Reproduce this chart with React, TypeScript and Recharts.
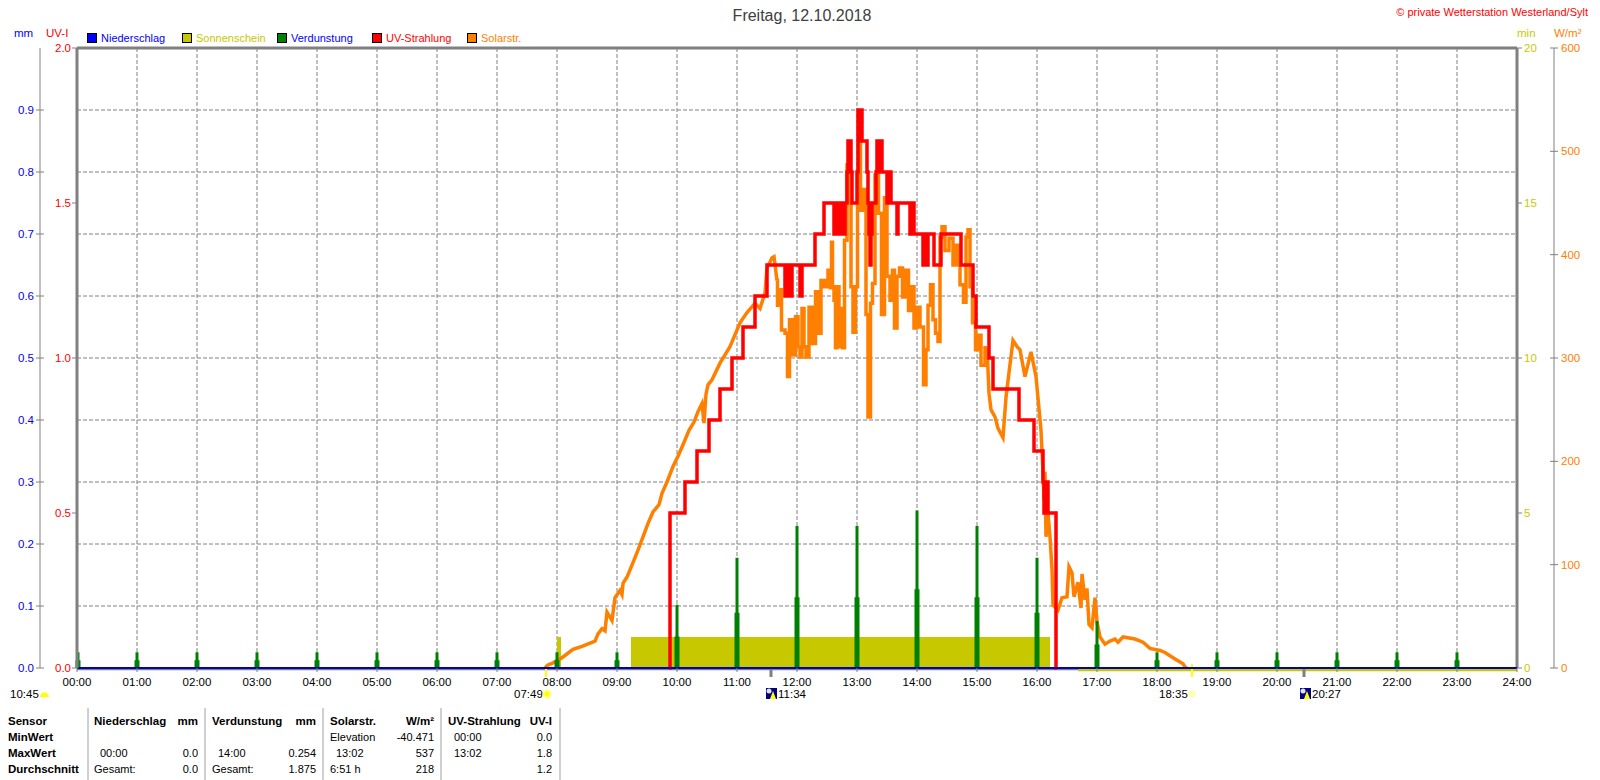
import React from 'react';
import { ComposedChart, Line, Area, XAxis, YAxis, CartesianGrid, ReferenceLine } from 'recharts';

const FONT = '"Liberation Sans", Arial, sans-serif';

const hourTicks = [0, 60, 120, 180, 240, 300, 360, 420, 480, 540, 600, 660, 720, 780, 840, 900, 960, 1020, 1080, 1140, 1200, 1260, 1320, 1380, 1440];
const mmTicks = [0, 0.1, 0.2, 0.3, 0.4, 0.5, 0.6, 0.7, 0.8, 0.9];
const uvTicks = [0, 0.5, 1, 1.5, 2];
const minTicks = [0, 5, 10, 15, 20];
const solarTicks = [0, 100, 200, 300, 400, 500, 600];

// minutes since midnight / W per m2
const solarRiseTimes = [468, 471, 476, 485, 496, 505, 518, 521, 525, 528, 530, 535, 538, 543, 545, 546, 550, 556, 561, 566, 571, 576, 582, 585, 590, 596, 601, 606, 612, 617, 621, 625, 627, 629, 631, 635, 643, 653, 663, 670, 678, 683, 688, 690, 695, 697, 700];
const solarRiseValues = [0, 3, 5, 10, 18, 21, 26, 33, 38, 36, 54, 46, 68, 75, 71, 82, 88, 102, 114, 127, 140, 151, 158, 169, 180, 195, 205, 216, 230, 238, 248, 256, 237, 265, 274, 279, 295, 311, 334, 344, 353, 348, 363, 387, 397, 398, 375];
const solarNoiseTimes = [700, 701, 703, 706, 710, 711, 714, 717, 720, 722, 724, 726, 728, 730, 734, 737, 740, 742, 746, 749, 753, 754, 755, 756, 758, 759, 761, 763, 765, 766, 769, 771, 773, 775, 777, 780, 781, 782, 785, 788, 790, 792, 795, 796, 800, 803, 806, 809, 811, 815, 816, 819, 821, 824, 827, 830, 833, 836, 838, 841, 845, 848, 850, 852, 855, 857, 860, 862, 864, 866, 870, 874, 878, 881, 885, 888, 890, 892, 894, 897, 900, 902, 906, 910];
const solarNoiseValues = [375, 351, 366, 327, 324, 282, 337, 303, 340, 311, 301, 348, 311, 301, 349, 314, 364, 324, 375, 369, 385, 368, 412, 369, 356, 310, 369, 311, 348, 310, 414, 487, 450, 369, 325, 369, 450, 537, 443, 463, 342, 243, 353, 372, 477, 440, 342, 455, 379, 356, 385, 329, 379, 387, 359, 385, 346, 369, 329, 349, 330, 274, 308, 351, 371, 337, 324, 316, 417, 427, 404, 416, 390, 409, 371, 354, 417, 424, 369, 334, 308, 322, 293, 310];
const solarTailTimes = [910, 912, 914, 918, 921, 926, 929, 932, 936, 940, 943, 948, 952, 954, 959, 964, 966, 967, 968, 969, 971, 973, 975, 976, 981, 985, 990, 992, 995, 997, 1001, 1004, 1005, 1008, 1010, 1012, 1015, 1018, 1020, 1023, 1028, 1033, 1038, 1041, 1046, 1058, 1066, 1073, 1083, 1088, 1096, 1106, 1108, 1110];
const solarTailValues = [310, 266, 250, 243, 232, 223, 262, 286, 317, 311, 308, 282, 298, 306, 282, 230, 190, 163, 190, 127, 150, 127, 95, 61, 56, 68, 69, 98, 92, 69, 83, 58, 91, 66, 77, 42, 39, 68, 45, 30, 23, 26, 28, 25, 30, 28, 25, 19, 17, 15, 10, 4, 1, 0];

const uvTimes = [592, 593, 608, 620, 632, 643, 655, 666, 678, 690, 708, 709, 710, 711, 712, 713, 714, 715, 723, 725, 738, 747, 757, 758, 759, 760, 761, 762, 763, 764, 765, 766, 767, 768, 769, 770, 771, 772, 773, 774, 775, 780, 781, 783, 784, 785, 790, 791, 792, 793, 794, 795, 799, 800, 801, 802, 803, 804, 805, 810, 811, 812, 813, 814, 820, 821, 833, 834, 835, 836, 837, 846, 847, 848, 849, 850, 851, 857, 864, 884, 896, 899, 912, 916, 942, 957, 966, 967, 968, 969, 970, 971, 979, 980];
const uvValues = [0, 0.5, 0.6, 0.7, 0.8, 0.9, 1.0, 1.1, 1.2, 1.3, 1.2, 1.3, 1.2, 1.3, 1.2, 1.3, 1.2, 1.3, 1.2, 1.3, 1.4, 1.5, 1.4, 1.5, 1.4, 1.5, 1.4, 1.5, 1.4, 1.5, 1.4, 1.5, 1.4, 1.5, 1.5, 1.6, 1.7, 1.6, 1.7, 1.6, 1.5, 1.6, 1.8, 1.7, 1.8, 1.7, 1.6, 1.5, 1.4, 1.3, 1.4, 1.5, 1.6, 1.7, 1.6, 1.7, 1.6, 1.7, 1.6, 1.5, 1.6, 1.5, 1.6, 1.5, 1.4, 1.5, 1.4, 1.5, 1.4, 1.5, 1.4, 1.3, 1.4, 1.3, 1.4, 1.3, 1.4, 1.3, 1.4, 1.3, 1.2, 1.1, 1.0, 0.9, 0.8, 0.7, 0.6, 0.5, 0.6, 0.5, 0.6, 0.5, 0, 0];

const evapHours = [1, 60, 120, 180, 240, 300, 360, 420, 480, 540, 600, 660, 720, 780, 840, 900, 960, 1020, 1080, 1140, 1200, 1260, 1320, 1380];
const evapValues = [0.0254, 0.0254, 0.0254, 0.0254, 0.0254, 0.0254, 0.0254, 0.0254, 0.0254, 0.0254, 0.102, 0.178, 0.229, 0.229, 0.254, 0.229, 0.178, 0.076, 0.0254, 0.0254, 0.0254, 0.0254, 0.0254, 0.0254];
const evapBase = [0.0127, 0.0127, 0.0127, 0.0127, 0.0127, 0.0127, 0.0127, 0.0127, 0.0127, 0.0127, 0.051, 0.089, 0.114, 0.114, 0.127, 0.114, 0.089, 0.038, 0.0127, 0.0127, 0.0127, 0.0127, 0.0127, 0.0127];

const sunTimes = [480, 484, 554, 973];
const sunValues = [1, 0, 1, 0];
const sunFloorStart = 1001;
const sunFloorEnd = 1440;
const sunFloorValue = -0.06;

const rainTimes = [0, 1440];
const rainValues = [0, 0];

const sunEvents = [469, 1115];
const sunEventTop = 0.0065;
const moonEvents = [694, 1227];
const moonEventTop = -0.002;
const eventFoot = -0.0145;
const baseLine = -0.002;

const zip = (ts: number[], vs: number[]) => ts.map((t, i) => ({ t, v: vs[i] }));

const spikes = (ts: number[], tops: number[], foot: number) =>
    ts.flatMap((t, i) => [
        { t, v: foot },
        { t, v: tops[i] },
        { t, v: null },
    ]);

const fmtHour = (m: number) => `${String(m / 60).padStart(2, '0')}:00`;

const sideTick = (color: string, fmt: (v: number) => string, x1: number, x2: number, tx: number, anchor: string) => (p: any) => (
    <g>
        <line x1={p.x + x1} x2={p.x + x2} y1={p.y} y2={p.y} stroke="#808080" />
        <text x={p.x + tx} y={p.y + 4} textAnchor={anchor} fill={color} fontSize={11.5} fontFamily={FONT}>
            {fmt(p.payload.value)}
        </text>
    </g>
);

const legendItems = [
    { name: 'Niederschlag', box: '#0000ff', text: '#0000ff' },
    { name: 'Sonnenschein', box: '#c8c800', text: '#c8c800' },
    { name: 'Verdunstung', box: '#008000', text: '#0000ff' },
    { name: 'UV-Strahlung', box: '#ff0000', text: '#ff0000' },
    { name: 'Solarstr.', box: '#ff8000', text: '#ff8000' },
];

// label, x, anchor, row, bold
const tableCells: [string, number, string, number, boolean][] = [
    ['Sensor', 8, 'start', 0, true],
    ['MinWert', 8, 'start', 1, true],
    ['MaxWert', 8, 'start', 2, true],
    ['Durchschnitt', 8, 'start', 3, true],
    ['Niederschlag', 94, 'start', 0, true],
    ['mm', 198, 'end', 0, true],
    ['Verdunstung', 212, 'start', 0, true],
    ['mm', 316, 'end', 0, true],
    ['Solarstr.', 330, 'start', 0, true],
    ['W/m²', 434, 'end', 0, true],
    ['UV-Strahlung', 448, 'start', 0, true],
    ['UV-I', 552, 'end', 0, true],
    ['Elevation', 330, 'start', 1, false],
    ['-40.471', 434, 'end', 1, false],
    ['00:00', 454, 'start', 1, false],
    ['0.0', 552, 'end', 1, false],
    ['00:00', 100, 'start', 2, false],
    ['0.0', 198, 'end', 2, false],
    ['14:00', 218, 'start', 2, false],
    ['0.254', 316, 'end', 2, false],
    ['13:02', 336, 'start', 2, false],
    ['537', 434, 'end', 2, false],
    ['13:02', 454, 'start', 2, false],
    ['1.8', 552, 'end', 2, false],
    ['Gesamt:', 94, 'start', 3, false],
    ['0.0', 198, 'end', 3, false],
    ['Gesamt:', 212, 'start', 3, false],
    ['1.875', 316, 'end', 3, false],
    ['6:51 h', 330, 'start', 3, false],
    ['218', 434, 'end', 3, false],
    ['1.2', 552, 'end', 3, false],
];

const MoonIcon = ({ x }: { x: number }) => (
    <g>
        <rect x={x} y={688} width={11} height={11} fill="#000080" />
        <circle cx={x + 3} cy={691} r={2.5} fill="#e0e0ff" />
        <path d={`M${x + 7} 691 l3 8 h-6 z`} fill="#ffff00" />
    </g>
);

const Overlay = () => (
    <svg width={1600} height={780} style={{ position: 'absolute', left: 0, top: 0, pointerEvents: 'none' }} fontFamily={FONT} fontSize={11.5}>
        <text x={802} y={21} textAnchor="middle" fontSize={16} fill="#404040">Freitag, 12.10.2018</text>
        <text x={1588} y={16} textAnchor="end" fill="#ff0000" fontSize={11}>© private Wetterstation Westerland/Sylt</text>
        <text x={14} y={37} fill="#0000ff">mm</text>
        <text x={46} y={37} fill="#ff0000">UV-I</text>
        <text x={1517} y={37} fill="#c8c800">min</text>
        <text x={1554} y={37} fill="#ff8000">W/m²</text>
        {legendItems.map((it, i) => (
            <g key={it.name}>
                <rect x={87.5 + i * 95} y={33.5} width={9} height={9} fill={it.box} stroke="#000" />
                <text x={101 + i * 95} y={42} fill={it.text} fontSize={11}>{it.name}</text>
            </g>
        ))}

        <text x={10} y={698} fill="#000">10:45</text>
        <path d="M40 697 a4.5 4.5 0 0 1 9 0 z" fill="#ffff00" />
        <text x={514} y={698} fill="#000">07:49</text>
        <circle cx={547} cy={694} r={3.5} fill="#ffff00" stroke="#ffff80" strokeWidth={2} />
        <MoonIcon x={766} />
        <text x={778} y={698} fill="#000">11:34</text>
        <text x={1159} y={698} fill="#000">18:35</text>
        <circle cx={1192} cy={694} r={3} fill="#ffffc0" stroke="#ffff80" />
        <MoonIcon x={1300} />
        <text x={1312} y={698} fill="#000">20:27</text>

        {[88, 205, 323, 441, 560].map((x) => (
            <line key={x} x1={x} x2={x} y1={708} y2={780} stroke="#a0a0a0" />
        ))}
        {tableCells.map(([s, x, anchor, row, bold], i) => (
            <text key={i} x={x} y={725 + row * 16} textAnchor={anchor} fontWeight={bold ? 'bold' : 'normal'} fontSize={bold ? 11.5 : 11} fill="#000">{s}</text>
        ))}
    </svg>
);

export default function App() {
    return (
        <div style={{ position: 'absolute', left: 0, top: 0, width: 1600, height: 780, background: '#fff' }}>
            <ComposedChart width={1600} height={780} margin={{ top: 48, right: 0, bottom: 82, left: 0 }}>
                <CartesianGrid yAxisId="mm" stroke="#808080" strokeDasharray="4 2" />
                <XAxis
                    dataKey="t"
                    type="number"
                    domain={[0, 1440]}
                    ticks={hourTicks}
                    interval={0}
                    height={30}
                    axisLine={false}
                    tickLine={{ stroke: '#808080' }}
                    tickSize={4}
                    tickFormatter={fmtHour}
                    tick={{ fill: '#000', fontSize: 11.5, fontFamily: FONT }}
                    tickMargin={6}
                />
                <YAxis yAxisId="auv" orientation="left" width={37} domain={[0, 2]} ticks={uvTicks} interval={0} tickSize={0} tickMargin={0} tickLine={false} axisLine={{ stroke: '#808080', strokeWidth: 3 }} tick={sideTick('#ff0000', (v) => v.toFixed(1), -5, 0, -6, 'end')} />
                <YAxis yAxisId="mm" orientation="left" width={40} domain={[0, 1]} ticks={mmTicks} interval={0} tickSize={0} tickMargin={0} tickLine={false} axisLine={{ stroke: '#808080' }} tick={sideTick('#0000ff', (v) => v.toFixed(1), -4, 4, -6, 'end')} />
                <YAxis yAxisId="min" orientation="right" width={37} domain={[0, 20]} ticks={minTicks} interval={0} tickSize={0} tickMargin={0} tickLine={false} axisLine={false} tick={sideTick('#c8c800', (v) => String(v), 0, 5, 7, 'start')} />
                <YAxis yAxisId="solar" orientation="right" width={46} domain={[0, 600]} ticks={solarTicks} interval={0} tickSize={0} tickMargin={0} tickLine={false} axisLine={{ stroke: '#808080' }} tick={sideTick('#ff8000', (v) => String(v), -4, 4, 7, 'start')} />

                <ReferenceLine yAxisId="mm" y={1} stroke="#808080" strokeWidth={3} />
                <ReferenceLine yAxisId="mm" x={1440} stroke="#808080" strokeWidth={3} />
                <ReferenceLine yAxisId="mm" ifOverflow="visible" segment={[{ x: 0, y: baseLine }, { x: 1440, y: baseLine }]} stroke="#808080" strokeWidth={2} />
                <ReferenceLine yAxisId="min" ifOverflow="visible" segment={[{ x: sunFloorStart, y: sunFloorValue }, { x: sunFloorEnd, y: sunFloorValue }]} stroke="#c8c800" strokeWidth={3} />
                {sunEvents.map((t) => (
                    <ReferenceLine key={t} yAxisId="mm" ifOverflow="visible" segment={[{ x: t, y: sunEventTop }, { x: t, y: eventFoot }]} stroke="#ffff00" strokeWidth={2} />
                ))}
                {moonEvents.map((t) => (
                    <ReferenceLine key={t} yAxisId="mm" ifOverflow="visible" segment={[{ x: t, y: moonEventTop }, { x: t, y: eventFoot }]} stroke="#808080" strokeWidth={3} />
                ))}

                <Area yAxisId="min" data={zip(sunTimes, sunValues)} dataKey="v" type="stepAfter" stroke="none" fill="#c8c800" fillOpacity={1} dot={false} activeDot={false} isAnimationActive={false} />
                <Line yAxisId="solar" data={zip(solarRiseTimes, solarRiseValues)} dataKey="v" type="linear" stroke="#ff8000" strokeWidth={3.5} dot={false} activeDot={false} isAnimationActive={false} />
                <Line yAxisId="solar" data={zip(solarNoiseTimes, solarNoiseValues)} dataKey="v" type="step" stroke="#ff8000" strokeWidth={3.5} dot={false} activeDot={false} isAnimationActive={false} />
                <Line yAxisId="solar" data={zip(solarTailTimes, solarTailValues)} dataKey="v" type="linear" stroke="#ff8000" strokeWidth={3.5} dot={false} activeDot={false} isAnimationActive={false} />
                <Line yAxisId="mm" data={spikes(evapHours, evapValues, 0)} dataKey="v" stroke="#008000" strokeWidth={3} strokeLinecap="butt" dot={false} activeDot={false} isAnimationActive={false} />
                <Line yAxisId="mm" data={spikes(evapHours, evapBase, 0)} dataKey="v" stroke="#008000" strokeWidth={5} strokeLinecap="butt" dot={false} activeDot={false} isAnimationActive={false} />
                <Line yAxisId="auv" data={zip(uvTimes, uvValues)} dataKey="v" type="stepAfter" stroke="#ff0000" strokeWidth={3.5} dot={false} activeDot={false} isAnimationActive={false} />
                <Line yAxisId="mm" data={zip(rainTimes, rainValues)} dataKey="v" stroke="#0000c0" strokeWidth={2} dot={false} activeDot={false} isAnimationActive={false} />
            </ComposedChart>
            <Overlay />
        </div>
    );
}
